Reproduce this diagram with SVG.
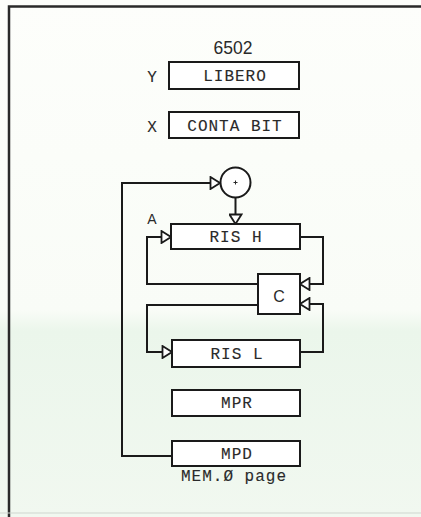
<svg xmlns="http://www.w3.org/2000/svg" width="421" height="517" viewBox="0 0 421 517">
<defs>
<linearGradient id="bg" x1="0" y1="0" x2="0" y2="1">
<stop offset="0" stop-color="#fdfefb"/>
<stop offset="0.6" stop-color="#f9fcf7"/>
<stop offset="0.64" stop-color="#ebf6eb"/>
<stop offset="1" stop-color="#f1f8f0"/>
</linearGradient>
<marker id="arr" viewBox="0 0 12 14" refX="11" refY="7" markerWidth="12" markerHeight="14" orient="auto" markerUnits="userSpaceOnUse">
<path d="M1.5,1 L11,7 L1.5,13 Z" fill="#ffffff" stroke="#1a1a1a" stroke-width="1.8" stroke-linejoin="miter"/>
</marker>
<style>
.box{fill:#ffffff;stroke:#1a1a1a;stroke-width:2}
.lbl{font-family:"Liberation Mono","DejaVu Sans Mono",monospace;font-size:16px;letter-spacing:1px;fill:#2a2a2a;stroke:#2a2a2a;stroke-width:0.12;text-anchor:middle}
.side{font-family:"Liberation Mono","DejaVu Sans Mono",monospace;font-size:16px;fill:#2a2a2a;stroke:#2a2a2a;stroke-width:0.12;text-anchor:middle}
.conn{fill:none;stroke:#1a1a1a;stroke-width:2}
</style>
</defs>
<rect x="0" y="0" width="421" height="517" fill="url(#bg)"/>
<path d="M9,517 V6.5 H421" fill="none" stroke="#2a2a2a" stroke-width="2.5"/>
<line x1="0" y1="513" x2="421" y2="513" stroke="#cfd6cf" stroke-width="1"/>
<text x="233" y="54" font-family="Liberation Sans, Arial, sans-serif" font-size="17.5" fill="#2a2a2a" text-anchor="middle">6502</text>
<g id="libero">
<rect class="box" x="169" y="62" width="130" height="27"/>
<text class="lbl" x="235" y="81">LIBERO</text>
<text class="side" x="152" y="82">Y</text>
</g>
<g id="contabit">
<rect class="box" x="169" y="112" width="130" height="26"/>
<text class="lbl" x="235" y="131">CONTA BIT</text>
<text class="side" x="152" y="132">X</text>
</g>
<g id="connectors">
<path class="conn" d="M172,456 H122 V183 H220" marker-end="url(#arr)"/>
<path class="conn" d="M235.5,198 V224" marker-end="url(#arr)"/>
<path class="conn" d="M300,237 H323 V284 H300" marker-end="url(#arr)"/>
<path class="conn" d="M258,284 H147 V237 H171" marker-end="url(#arr)"/>
<path class="conn" d="M258,305 H147 V352 H172" marker-end="url(#arr)"/>
<path class="conn" d="M300,352 H323 V304 H300" marker-end="url(#arr)"/>
</g>
<g id="adder">
<circle cx="235.5" cy="182.5" r="15" fill="#ffffff" stroke="#1a1a1a" stroke-width="2"/>
<path d="M233.5,182.5 H237.5 M235.5,180.5 V184.5" stroke="#2a2a2a" stroke-width="1"/>
</g>
<g id="rish">
<rect class="box" x="171" y="224" width="129" height="25"/>
<text class="lbl" x="236" y="242">RIS H</text>
<text x="152" y="224" font-family="Liberation Sans, Arial, sans-serif" font-size="14" fill="#2a2a2a" text-anchor="middle">A</text>
</g>
<g id="c">
<rect class="box" x="258" y="274" width="42" height="40"/>
<text x="279" y="302" font-family="Liberation Sans, Arial, sans-serif" font-size="16" fill="#2a2a2a" text-anchor="middle">C</text>
</g>
<g id="risl">
<rect class="box" x="172" y="340" width="128" height="27"/>
<text class="lbl" x="237" y="359">RIS L</text>
</g>
<g id="mpr">
<rect class="box" x="172" y="390" width="128" height="26"/>
<text class="lbl" x="237" y="408">MPR</text>
</g>
<g id="mpd">
<rect class="box" x="172" y="441" width="128" height="25"/>
<text class="lbl" x="237" y="459">MPD</text>
<text class="lbl" x="234" y="481">MEM.Ø page</text>
</g>
</svg>
